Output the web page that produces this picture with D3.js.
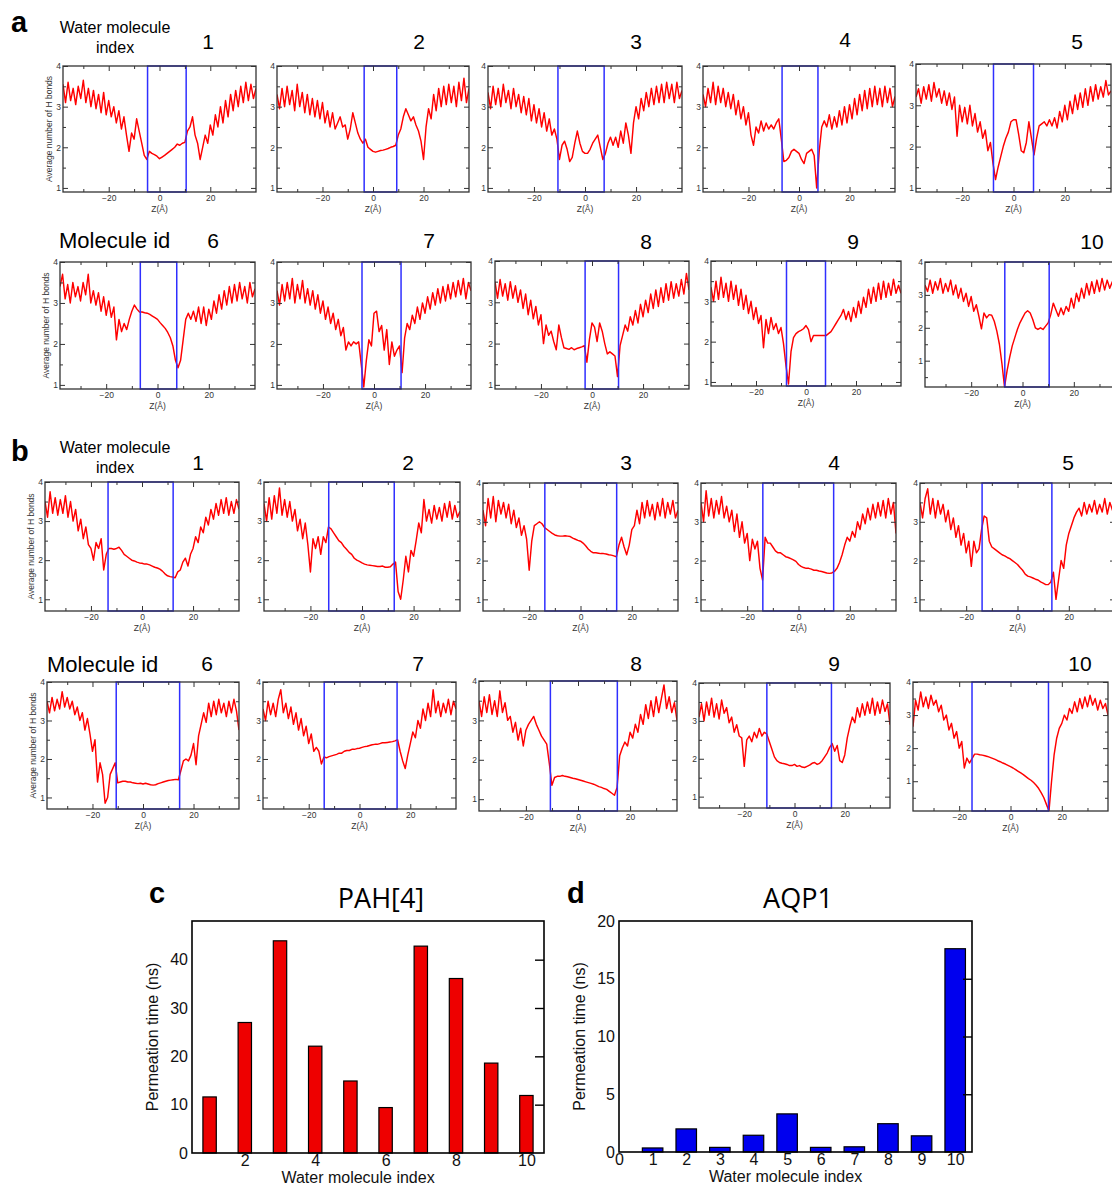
<!DOCTYPE html>
<html><head><meta charset="utf-8">
<script src="https://cdn.jsdelivr.net/npm/d3@7"></script>
<style>
body{margin:0;background:#fff}
svg{display:block;background:#fff}
</style>
</head><body>
<svg id="fig" width="1112" height="1188"></svg>
<script>
// ---------- data ----------
// z positions (Å) at which the H-bond counts are sampled
const zSamples = [-38,-37,-36,-35,-34,-33,-32,-31,-30,-29,-28,-27,-26,-25,-24,-23,-22,-21,-20,-19,
  -18,-17,-16,-15,-14,-13,-12,-11,-10,-9,-8,-7,-6,-5,-4,-3,-2,-1,0,1,2,3,4,5,6,7,8,9,10,11,
  12,13,14,15,16,17,18,19,20,21,22,23,24,25,26,27,28,29,30,31,32,33,34,35,36,37,38];

// Panel a: PAH[4] channel, average number of H bonds per water molecule
const hbA1 = [3.55,3.1,3.6,3.15,3.45,3.05,3.5,3.2,3.65,3.1, 3.45,3.0,3.4,2.95,3.3,2.85,3.35,2.8,3.15,2.75,
  3.0,2.6,2.9,2.45,2.75,2.3,1.9,2.35,2.2,2.7, 2.4,2.1,1.8,1.7,1.9,1.85,1.82,1.78,1.72,1.76,
  1.8,1.85,1.9,1.95,2.0,2.08,2.05,2.1,2.12,2.4, 2.5,2.75,2.3,2.1,1.7,2.0,2.3,2.1,2.55,2.3,
  2.8,2.5,3.0,2.6,3.15,2.75,3.3,2.9,3.4,3.0, 3.5,3.1,3.6,3.15,3.55,3.2,3.45];
const hbA2 = [3.3,2.95,3.45,3.0,3.5,3.05,3.4,2.9,3.55,3.0, 3.35,2.85,3.3,2.8,3.2,2.75,3.15,2.7,3.1,2.6,
  2.9,2.5,2.85,2.45,2.6,2.75,2.5,2.55,2.2,2.45, 2.85,2.6,2.35,2.2,2.1,2.2,2.0,1.95,1.9,1.88,
  1.9,1.92,1.93,1.95,1.97,2.0,2.02,2.05,2.3,2.45, 2.75,2.95,2.8,2.65,2.75,2.55,2.4,2.15,1.7,2.5,
  2.95,2.7,3.3,2.9,3.45,3.0,3.5,3.05,3.55,3.1, 3.5,3.0,3.6,3.15,3.7,3.1,3.45];
const hbA3 = [3.35,2.95,3.5,3.05,3.45,3.0,3.55,3.1,3.4,2.95, 3.45,3.0,3.3,2.85,3.25,2.8,3.2,2.65,3.05,2.6,
  2.95,2.5,2.85,2.4,2.7,2.3,2.45,2.2,1.7,2.05, 2.15,1.95,1.65,1.75,2.1,2.4,2.1,1.9,1.85,1.85,
  1.95,2.1,2.2,2.3,2.0,1.7,1.85,2.1,2.25,2.05, 2.25,2.0,2.4,2.1,2.6,2.3,1.85,2.6,3.0,2.7,
  3.2,2.9,3.35,3.0,3.45,3.05,3.5,3.1,3.55,3.1, 3.6,3.2,3.55,3.1,3.6,3.2,3.4];
const hbA4 = [3.3,3.0,3.45,3.1,3.6,3.05,3.5,3.1,3.45,3.0, 3.35,2.95,3.3,2.8,3.15,2.7,3.0,2.55,2.85,2.3,
  2.05,2.5,2.35,2.65,2.4,2.6,2.45,2.55,2.45,2.6, 2.7,2.2,1.65,1.68,1.75,1.9,1.95,1.9,1.85,1.7,
  1.6,1.85,1.9,1.95,1.8,1.0,1.9,2.5,2.65,2.5, 2.8,2.45,2.75,2.5,2.9,2.55,3.0,2.6,3.05,2.7,
  3.2,2.8,3.3,2.9,3.4,2.95,3.45,3.0,3.5,3.05, 3.45,3.0,3.5,3.1,3.45,3.0,3.25];
const hbA5 = [3.2,3.4,3.05,3.45,3.15,3.5,3.1,3.55,3.2,3.4, 3.05,3.35,3.0,3.3,2.9,3.2,2.25,3.0,2.6,2.95,
  2.55,3.0,2.5,2.8,2.35,2.6,2.2,2.4,1.9,2.1, 1.6,1.2,1.5,1.75,2.0,2.2,2.35,2.6,2.65,2.65,
  2.3,1.9,1.85,2.1,2.6,2.2,1.8,2.2,2.5,2.55, 2.6,2.5,2.65,2.5,2.7,2.45,2.85,2.6,3.0,2.65,
  3.1,2.8,3.25,2.9,3.3,2.95,3.4,3.0,3.45,3.1, 3.5,3.15,3.45,3.2,3.6,3.25,3.35];
const hbA6 = [3.4,3.7,3.1,3.45,3.0,3.5,3.15,3.4,3.05,3.5, 3.2,3.7,3.0,3.3,2.95,3.25,2.8,3.15,2.7,3.05,
  2.65,2.9,2.1,2.6,2.3,2.5,2.35,2.6,2.8,2.95, 2.85,2.78,2.78,2.76,2.75,2.72,2.68,2.64,2.6,2.52,
  2.45,2.38,2.28,2.15,1.95,1.6,1.42,1.6,2.1,2.6, 2.75,2.6,2.8,2.55,2.9,2.5,2.9,2.45,2.85,2.6,
  3.05,2.75,3.2,2.85,3.3,2.95,3.4,3.0,3.45,3.05, 3.5,3.1,3.4,3.0,3.5,3.15,3.35];
const hbA7 = [3.3,2.95,3.45,3.05,3.5,3.1,3.6,3.0,3.45,3.1, 3.55,3.0,3.35,2.95,3.3,2.85,3.2,2.75,3.05,2.6,
  2.9,2.5,2.75,2.35,2.6,2.2,2.4,1.85,2.05,1.95, 2.05,2.0,2.05,1.5,0.95,1.6,2.1,1.95,2.75,2.8,
  2.3,2.45,1.85,2.35,1.5,2.05,1.7,1.85,1.95,1.3, 2.15,2.5,2.35,2.7,2.5,2.9,2.6,3.0,2.75,3.15,
  2.85,3.25,2.95,3.35,3.0,3.4,3.05,3.45,3.1,3.5, 3.15,3.55,3.2,3.6,3.1,3.5,3.3];
const hbA8 = [3.5,3.1,3.55,3.15,3.45,3.05,3.5,3.1,3.4,3.0, 3.3,2.85,3.2,2.7,3.05,2.6,2.9,2.45,2.7,2.0,
  2.45,2.2,2.3,2.05,1.85,2.45,2.15,1.9,1.88,1.86, 1.9,1.85,1.88,1.9,1.92,1.95,1.55,2.1,2.5,2.4,
  2.05,2.5,2.3,2.0,1.75,1.8,1.75,1.7,1.2,1.95, 2.2,2.45,2.3,2.65,2.45,2.8,2.5,2.95,2.65,3.05,
  2.75,3.2,2.85,3.3,2.9,3.35,3.0,3.45,3.05,3.5, 3.1,3.45,3.15,3.55,3.2,3.7,3.3];
const hbA9 = [3.35,3.0,3.5,3.05,3.6,3.1,3.45,3.0,3.5,3.05, 3.4,2.9,3.3,2.8,3.15,2.7,3.0,2.55,2.85,2.45,
  2.65,1.85,2.55,2.2,2.6,2.3,2.45,2.2,2.35,1.95, 1.4,0.95,1.75,2.1,2.2,2.25,2.28,2.32,2.4,2.3,
  2.0,2.15,2.15,2.15,2.15,2.15,2.15,2.2,2.25,2.35, 2.45,2.55,2.65,2.8,2.55,2.75,2.5,2.85,2.6,3.0,
  2.7,3.1,2.85,3.3,2.95,3.35,3.0,3.45,3.05,3.5, 3.1,3.45,3.15,3.55,3.2,3.4,3.2];
const hbA10 = [3.3,3.1,3.45,3.05,3.4,3.15,3.5,3.05,3.35,3.1, 3.45,3.0,3.3,2.9,3.2,2.8,3.05,2.65,2.95,2.5,
  2.7,2.35,1.97,2.45,2.3,2.4,2.38,2.2,1.9,1.5, 0.9,0.2,0.7,1.1,1.45,1.7,1.95,2.15,2.3,2.45,
  2.52,2.45,2.25,2.0,1.95,2.0,1.95,2.05,2.15,2.4, 2.75,2.55,2.35,2.6,2.4,2.65,2.5,2.9,2.6,3.05,
  2.8,3.2,2.9,3.35,3.0,3.4,3.05,3.45,3.1,3.5, 3.15,3.45,3.2,3.4,3.1,3.5,3.3];

// Panel b: AQP1 channel
const hbB1 = [3.5,3.1,3.75,3.2,3.6,3.15,3.55,3.2,3.65,3.1, 3.5,3.0,3.3,2.75,3.05,2.55,2.85,2.4,2.3,2.0,
  2.45,2.3,2.55,1.75,2.15,2.3,2.3,2.28,2.3,2.33, 2.25,2.15,2.1,2.05,2.0,1.98,1.95,1.93,1.92,1.9,
  1.9,1.88,1.85,1.82,1.8,1.77,1.72,1.65,1.6,1.58, 1.57,1.55,1.7,1.75,1.95,2.05,1.85,2.15,2.3,2.6,
  2.45,2.85,2.7,3.1,2.9,3.3,3.05,3.45,3.15,3.55, 3.2,3.6,3.15,3.5,3.2,3.55,3.3];
const hbB2 = [3.45,3.0,3.6,3.05,3.65,3.2,3.85,3.15,3.55,3.1, 3.5,3.0,3.3,2.75,3.05,2.55,2.95,2.4,1.7,2.55,
  2.3,2.6,2.15,2.6,2.45,2.85,2.8,2.7,2.6,2.5, 2.45,2.35,2.28,2.2,2.15,2.05,2.0,1.97,1.93,1.9,
  1.88,1.87,1.86,1.85,1.84,1.84,1.85,1.82,1.82,1.83, 1.9,1.95,1.2,1.0,1.5,2.1,1.7,2.25,2.1,2.5,
  2.95,2.7,3.55,3.0,3.3,2.95,3.4,3.05,3.35,3.0, 3.45,3.1,3.5,3.05,3.4,3.1,3.25];
const hbB3 = [3.3,2.9,3.6,3.1,3.65,3.0,3.55,3.2,3.5,3.1, 3.45,2.95,3.3,2.85,3.1,2.65,2.9,2.55,1.75,2.5,
  2.9,2.95,3.0,2.95,2.85,2.8,2.75,2.7,2.66,2.64, 2.63,2.63,2.64,2.63,2.62,2.58,2.55,2.52,2.5,2.45,
  2.38,2.3,2.24,2.2,2.2,2.19,2.18,2.18,2.17,2.15, 2.14,2.12,2.1,2.4,2.6,2.35,2.15,2.4,2.8,2.9,
  3.3,2.95,3.5,3.1,3.55,3.15,3.45,3.05,3.5,3.15, 3.6,3.1,3.5,3.2,3.55,3.1,3.3];
const hbB4 = [3.5,3.0,3.8,3.15,3.6,3.1,3.55,3.2,3.65,3.1, 3.4,3.0,3.3,2.75,3.2,2.6,3.0,2.45,2.7,2.0,
  2.55,2.3,2.5,1.8,1.5,2.6,2.45,2.45,2.35,2.25, 2.2,2.2,2.15,2.1,2.08,2.05,2.02,1.98,1.9,1.85,
  1.82,1.8,1.8,1.78,1.75,1.75,1.73,1.72,1.7,1.68, 1.67,1.68,1.72,1.8,1.95,2.15,2.4,2.6,2.5,2.75,
  2.6,3.0,2.8,3.2,2.95,3.35,3.05,3.45,3.1,3.5, 3.15,3.55,3.1,3.6,3.2,3.5,2.7];
const hbB5 = [3.5,3.1,3.6,3.85,3.2,3.6,3.1,3.55,3.2,3.45, 3.0,3.3,2.8,3.1,2.6,2.9,2.4,2.7,2.2,2.5,
  1.85,2.5,2.2,2.3,2.8,3.15,3.1,2.5,2.35,2.3, 2.25,2.2,2.15,2.12,2.08,2.05,2.0,1.95,1.9,1.82,
  1.75,1.65,1.6,1.58,1.55,1.52,1.5,1.45,1.42,1.38, 1.38,1.45,1.7,1.0,1.5,2.0,1.8,2.4,2.7,2.9,
  3.1,3.25,3.35,3.15,3.5,3.2,3.45,3.25,3.55,3.2, 3.45,3.25,3.6,3.2,3.5,3.3,3.4];
const hbB6 = [3.5,3.2,3.6,3.25,3.55,3.3,3.75,3.35,3.6,3.3, 3.5,3.15,3.35,3.0,3.2,2.75,3.05,2.65,2.2,2.5,
  1.4,1.9,1.6,0.85,1.0,1.6,1.75,1.9,1.38,1.4, 1.42,1.42,1.4,1.4,1.38,1.37,1.36,1.37,1.35,1.37,
  1.35,1.33,1.32,1.33,1.36,1.38,1.4,1.42,1.44,1.45, 1.46,1.47,1.46,1.7,1.95,2.0,1.95,2.1,2.4,1.85,
  2.6,2.9,3.2,2.95,3.45,3.1,3.5,3.15,3.55,3.2, 3.45,3.1,3.5,3.2,3.55,3.25,2.75];
const hbB7 = [3.3,3.0,3.5,3.15,3.45,3.1,3.55,3.8,3.2,3.45, 3.05,3.35,2.9,3.2,2.75,3.05,2.6,2.85,2.4,2.65,
  2.2,2.3,2.2,1.87,2.05,2.03,2.06,2.08,2.1,2.12, 2.15,2.15,2.2,2.22,2.22,2.25,2.25,2.27,2.28,2.3,
  2.32,2.33,2.35,2.37,2.38,2.38,2.4,2.42,2.42,2.43, 2.44,2.45,2.47,2.5,2.2,1.95,1.75,2.1,2.4,2.7,
  2.55,3.0,2.8,3.3,3.0,3.45,3.1,3.8,3.2,3.5, 3.1,3.45,3.2,3.55,3.15,3.5,3.3];
const hbB8 = [3.5,3.1,3.6,3.2,3.65,3.15,3.5,3.1,3.75,3.2, 3.45,3.0,3.1,2.7,2.95,2.5,2.8,2.35,2.75,2.9,
  3.0,3.1,2.9,2.75,2.6,2.5,2.4,1.9,1.35,1.55, 1.58,1.58,1.6,1.58,1.57,1.55,1.53,1.52,1.5,1.48,
  1.46,1.44,1.42,1.4,1.38,1.35,1.32,1.3,1.27,1.25, 1.2,1.15,1.1,1.3,2.1,2.3,2.45,2.35,2.7,2.55,
  2.9,2.7,3.15,2.9,3.4,3.05,3.5,3.1,3.6,3.2, 3.55,3.9,3.3,3.6,3.2,3.45,3.0];
const hbB9 = [3.1,3.45,3.0,3.5,3.15,3.6,3.1,3.45,3.05,3.55, 3.2,3.35,2.95,3.1,2.7,2.9,2.6,2.55,1.8,2.5,
  2.6,2.45,2.7,2.55,2.8,2.6,2.7,2.65,2.45,2.25, 2.05,1.95,1.9,1.88,1.87,1.85,1.82,1.82,1.85,1.8,
  1.82,1.78,1.77,1.8,1.83,1.88,1.9,1.85,1.88,1.95, 2.05,2.15,2.3,2.4,2.2,2.35,1.95,1.9,2.1,2.55,
  2.85,3.1,2.95,3.35,3.1,3.45,3.15,3.5,3.2,3.6, 3.15,3.5,3.2,3.55,3.25,3.45,2.9];
const hbB10 = [2.65,3.45,3.15,3.7,3.25,3.55,3.2,3.6,3.3,3.45, 3.1,3.3,2.85,3.0,2.55,2.75,2.3,2.5,2.0,2.2,
  1.4,1.7,1.55,1.68,1.82,1.82,1.8,1.79,1.77,1.75, 1.72,1.69,1.66,1.62,1.59,1.55,1.52,1.48,1.44,1.4,
  1.35,1.3,1.25,1.2,1.14,1.08,1.03,0.96,0.88,0.78, 0.65,0.5,0.3,0.1,1.0,1.8,2.3,2.6,2.75,3.0,
  2.85,3.2,3.05,3.4,3.1,3.5,3.2,3.55,3.25,3.6, 3.3,3.5,3.15,3.45,3.2,3.35,3.0];

// pore region (Å) outlined in blue for each molecule
const poreA = [[-4.7,10.5],[-3.5,9.4],[-10.6,7.5],[-6.7,7.5],[-7.8,7.8],[-6.7,7.5],[-4.7,10.6],[-2.7,10.4],[-7.8,7.8],[-6.9,10.4]];
const poreB = [[-13.3,12.2],[-12.9,12.5],[-13.9,14.1],[-13.9,13.7],[-13.8,13.4],[-10.6,14.5],[-13.9,14.8],[-10.6,15.1],[-11,14.7],[-15,14.8]];
// lower end of each H-bond axis
const yLowA = [0.9,0.9,0.9,0.9,0.9,0.9,0.9,0.9,0.9,0.2];
const yLowB = [0.7,0.7,0.7,0.7,0.7,0.7,0.7,0.7,0.7,0.1];
const moleculeIds = ["1","2","3","4","5","6","7","8","9","10"];

// Panels c, d: permeation times
const waterIndex = [1,2,3,4,5,6,7,8,9,10];
const permPAH4 = [11.6,27.0,43.9,22.1,14.9,9.4,42.8,36.1,18.6,11.9];
const permAQP1 = [0.35,2.0,0.4,1.45,3.3,0.4,0.45,2.45,1.4,17.6];

const hbA = [hbA1,hbA2,hbA3,hbA4,hbA5,hbA6,hbA7,hbA8,hbA9,hbA10];
const hbB = [hbB1,hbB2,hbB3,hbB4,hbB5,hbB6,hbB7,hbB8,hbB9,hbB10];

// ---------- layout ----------
const boxesA = [
  {x:63,y:66,w:193,h:126},{x:277,y:66,w:192,h:126},{x:488,y:66,w:194,h:126},{x:703,y:66,w:192,h:126},{x:916,y:64,w:195,h:128},
  {x:60,y:262,w:195,h:127},{x:277,y:262,w:194,h:127},{x:495,y:261,w:194,h:128},{x:711,y:261,w:190,h:125},{x:925,y:262,w:195,h:125}];
const boxesB = [
  {x:45,y:482,w:194,h:129},{x:264,y:482,w:196,h:129},{x:483,y:483,w:195,h:128},{x:701,y:483,w:195,h:128},{x:920,y:483,w:195,h:128},
  {x:47,y:682,w:192,h:127},{x:263,y:682,w:193,h:127},{x:479,y:681,w:198,h:130},{x:699,y:683,w:191,h:125},{x:913,y:682,w:195,h:129}];
const idPosA = [[208,49],[419,49],[636,49],[845,47],[1077,49],[213,248],[429,248],[646,249],[853,249],[1092,249]];
const idPosB = [[198,470],[408,470],[626,470],[834,470],[1068,470],[207,671],[418,671],[636,671],[834,671],[1080,671]];

const FONT = "'Liberation Sans', Arial, Helvetica, sans-serif";
const RED = "#ff0000", BLUE = "#2f2fff", FRAME = "#333";

const svg = d3.select("#fig");
svg.append("rect").attr("width",1112).attr("height",1188).attr("fill","#fff");
const defs = svg.append("defs");

function styleAxis(sel, fs, col) {
  sel.select(".domain").remove();
  sel.selectAll("line").attr("stroke", FRAME).attr("stroke-width", 1);
  sel.selectAll("text").attr("fill", col || "#333").attr("font-size", fs).attr("font-family", FONT);
}

function hbondPanel(key, box, values, pore, yLow, withYLabel) {
  const x = d3.scaleLinear().domain([-38, 38]).range([0, box.w]);
  const y = d3.scaleLinear().domain([yLow, 4]).range([box.h, 0]);
  const g = svg.append("g").attr("transform", `translate(${box.x},${box.y})`);
  const cid = "clip-" + key;
  defs.append("clipPath").attr("id", cid).append("rect").attr("width", box.w).attr("height", box.h);

  g.append("path").datum(values)
    .attr("clip-path", `url(#${cid})`)
    .attr("fill", "none").attr("stroke", RED).attr("stroke-width", 1.45).attr("stroke-linejoin", "round")
    .attr("d", d3.line().x((d, i) => x(zSamples[i])).y(d => y(d)));

  g.append("rect")
    .attr("x", x(pore[0])).attr("y", 0)
    .attr("width", x(pore[1]) - x(pore[0])).attr("height", box.h)
    .attr("fill", "none").attr("stroke", BLUE).attr("stroke-width", 1.5);

  const minorY = [0.5, 1.5, 2.5, 3.5].filter(v => v > yLow);
  const majorY = [1, 2, 3, 4].filter(v => v >= yLow);
  g.append("g").attr("transform", `translate(0,${box.h})`)
    .call(d3.axisBottom(x).tickValues([-20, 0, 20]).tickSize(-5).tickPadding(2.5)).call(s => styleAxis(s, 8.5));
  g.append("g").attr("transform", `translate(0,${box.h})`)
    .call(d3.axisBottom(x).tickValues([-30, -10, 10, 30]).tickSize(-3).tickFormat("")).call(s => styleAxis(s, 8.5));
  g.append("g")
    .call(d3.axisTop(x).tickValues([-20, 0, 20]).tickSize(-5).tickFormat("")).call(s => styleAxis(s, 8.5));
  g.append("g")
    .call(d3.axisTop(x).tickValues([-30, -10, 10, 30]).tickSize(-3).tickFormat("")).call(s => styleAxis(s, 8.5));
  g.append("g")
    .call(d3.axisLeft(y).tickValues(majorY).tickSize(-5).tickPadding(2).tickFormat(d3.format("d"))).call(s => styleAxis(s, 8.5));
  g.append("g")
    .call(d3.axisLeft(y).tickValues(minorY).tickSize(-3).tickFormat("")).call(s => styleAxis(s, 8.5));
  g.append("g").attr("transform", `translate(${box.w},0)`)
    .call(d3.axisRight(y).tickValues(majorY).tickSize(-5).tickFormat("")).call(s => styleAxis(s, 8.5));
  g.append("g").attr("transform", `translate(${box.w},0)`)
    .call(d3.axisRight(y).tickValues(minorY).tickSize(-3).tickFormat("")).call(s => styleAxis(s, 8.5));

  g.append("rect").attr("width", box.w).attr("height", box.h)
    .attr("fill", "none").attr("stroke", FRAME).attr("stroke-width", 1.3);

  g.append("text").attr("x", x(0)).attr("y", box.h + 20)
    .attr("text-anchor", "middle").attr("font-family", FONT).attr("font-size", 8.5).attr("fill", "#333")
    .text("Z(Å)");

  if (withYLabel) {
    g.append("text")
      .attr("transform", `translate(-11,${box.h / 2}) rotate(-90)`)
      .attr("text-anchor", "middle").attr("font-family", FONT).attr("font-size", 8.5).attr("fill", "#333")
      .text("Average number of H bonds");
  }
}

hbA.forEach((vals, i) => hbondPanel("a" + i, boxesA[i], vals, poreA[i], yLowA[i], i % 5 === 0));
hbB.forEach((vals, i) => hbondPanel("b" + i, boxesB[i], vals, poreB[i], yLowB[i], i % 5 === 0));

function label(txt, x, y, size, opts = {}) {
  svg.append("text").attr("x", x).attr("y", y)
    .attr("font-family", opts.family || FONT).attr("font-size", size)
    .attr("font-weight", opts.weight || "normal")
    .attr("text-anchor", opts.anchor || "start").attr("fill", "#000")
    .text(txt);
}

// molecule numbers above each trace
moleculeIds.forEach((t, i) => {
  label(t, idPosA[i][0], idPosA[i][1], 21, {anchor: "middle"});
  label(t, idPosB[i][0], idPosB[i][1], 21, {anchor: "middle"});
});
// row headers
label("Water molecule", 115, 33, 16, {anchor: "middle"});
label("index", 115, 53, 16, {anchor: "middle"});
label("Molecule id", 59, 248, 22);
label("Water molecule", 115, 453, 16, {anchor: "middle"});
label("index", 115, 473, 16, {anchor: "middle"});
label("Molecule id", 47, 672, 22);
// panel letters
label("a", 11, 32, 29, {weight: "bold"});
label("b", 11, 461, 29, {weight: "bold"});
label("c", 149, 903, 29, {weight: "bold"});
label("d", 567, 903, 29, {weight: "bold"});

// ---------- bar panels ----------
function barPanel(box, values, color, xDomain, yDomain, xTicks, yTicks, rightTicks, barWidthUnits, title, titleX) {
  const x = d3.scaleLinear().domain(xDomain).range([0, box.w]);
  const y = d3.scaleLinear().domain(yDomain).range([box.h, 0]);
  const g = svg.append("g").attr("transform", `translate(${box.x},${box.y})`);
  const bw = x(barWidthUnits) - x(0);

  g.selectAll("rect.bar").data(values).join("rect").attr("class", "bar")
    .attr("x", (d, i) => x(waterIndex[i]) - bw / 2)
    .attr("y", d => y(d))
    .attr("width", bw)
    .attr("height", d => y(0) - y(d))
    .attr("fill", color).attr("stroke", "#000").attr("stroke-width", 1.2);

  g.append("g").attr("transform", `translate(0,${box.h})`)
    .call(d3.axisBottom(x).tickValues(xTicks).tickSize(0).tickPadding(2).tickFormat(d3.format("d")))
    .call(s => styleAxis(s, 16, "#111"));
  g.append("g")
    .call(d3.axisLeft(y).tickValues(yTicks).tickSize(0).tickPadding(4).tickFormat(d3.format("d")))
    .call(s => styleAxis(s, 16, "#111"));
  g.append("g").attr("transform", `translate(${box.w},0)`)
    .call(d3.axisRight(y).tickValues(rightTicks).tickSize(-9).tickFormat(""))
    .call(s => { styleAxis(s, 16); s.selectAll("line").attr("stroke", "#000").attr("stroke-width", 1.4); });

  g.append("rect").attr("width", box.w).attr("height", box.h)
    .attr("fill", "none").attr("stroke", "#000").attr("stroke-width", 1.6);

  g.append("text")
    .attr("transform", `translate(-34,${box.h / 2}) rotate(-90)`)
    .attr("text-anchor", "middle").attr("font-family", FONT).attr("font-size", 16).attr("fill", "#111")
    .text("Permeation time (ns)");
  g.append("text").attr("x", box.w / 2 - 10).attr("y", box.h + 30)
    .attr("text-anchor", "middle").attr("font-family", FONT).attr("font-size", 16).attr("fill", "#111")
    .text("Water molecule index");

  label(title, titleX, 908, 27, {anchor: "middle", family: "'Open Sans', 'Noto Sans', sans-serif"});
}

barPanel({x:192,y:921,w:352,h:232}, permPAH4, "#ee0000", [0.5, 10.5], [0, 48],
  [2,4,6,8,10], [0,10,20,30,40], [10,20,30,40], 0.38, "PAH[4]", 381);
barPanel({x:619,y:921,w:353,h:231}, permAQP1, "#0000ee", [0, 10.5], [0, 20],
  [0,1,2,3,4,5,6,7,8,9,10], [0,5,10,15,20], [5,10,15], 0.61, "AQP1", 798);
</script>
</body></html>
